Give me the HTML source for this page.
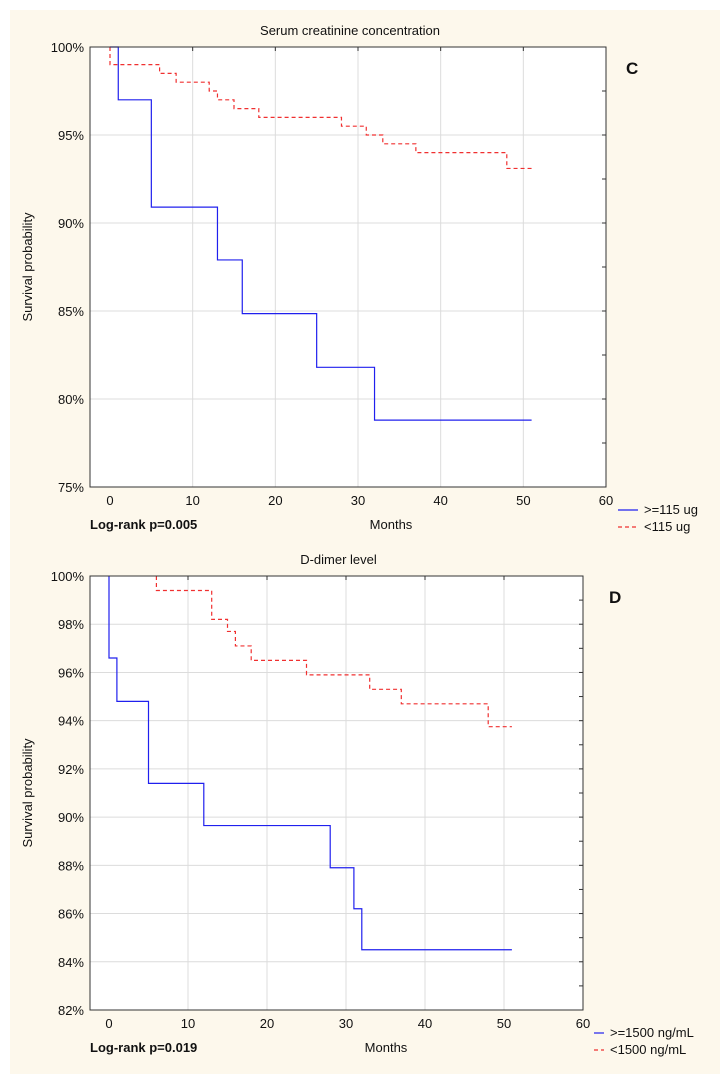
<!DOCTYPE html>
<html><head><meta charset="utf-8"><style>
body{margin:0;background:#fff;}
svg{display:block;font-family:"Liberation Sans",sans-serif;}
</style></head><body>
<svg id="s" width="725" height="1078" xmlns="http://www.w3.org/2000/svg">
<rect x="10" y="10" width="710" height="1064" fill="#fdf8ec"/>
</svg>
<script>
const topBlueT=[0,1,5,13,16,25,32,51];
const topBlueS=[100,97,90.9,87.9,84.85,81.8,78.8,78.8];
const topRedT=[0,0,6,8,12,13,15,18,28,31,33,37,48,51];
const topRedS=[100,99,98.5,98,97.5,97,96.5,96,95.5,95,94.5,94,93.1,93.1];
const topYTicks=[75,80,85,90,95,100];
const botBlueT=[0,0,1,5,12,28,31,32,51];
const botBlueS=[100,96.6,94.8,91.4,89.65,87.9,86.2,84.5,84.5];
const botRedT=[6,6,13,15,16,18,25,33,37,48,51];
const botRedS=[100,99.4,98.2,97.7,97.1,96.5,95.9,95.3,94.7,93.75,93.75];
const botYTicks=[82,84,86,88,90,92,94,96,98,100];
const xTicks=[0,10,20,30,40,50,60];

const svg=document.getElementById('s');
const NS='http://www.w3.org/2000/svg';
function mk(tag,attrs,parent){const e=document.createElementNS(NS,tag);for(const k in attrs)e.setAttribute(k,attrs[k]);(parent||svg).appendChild(e);return e;}
function txt(x,y,s,size,attrs,parent){const e=mk('text',Object.assign({x:x,y:y,'font-size':size,fill:'#111'},attrs||{}),parent);e.textContent=s;return e;}

function panel(cfg){
  const g=mk('g',{});
  
  
  const L=cfg.L,R=cfg.R,T=cfg.T,B=cfg.B;
  const xs=v=>cfg.x0+(v-0)*(cfg.x60-cfg.x0)/60;
  const ys=v=>B-(v-cfg.yMin)*(B-T)/(cfg.yMax-cfg.yMin);
  const bg=mk('rect',{x:L,y:T,width:R-L,height:B-T,fill:'#fff'},g);
  
  xTicks.forEach(t=>{
    if(t>0&&t<60){const l=mk('line',{x1:xs(t),x2:xs(t),y1:T,y2:B,stroke:'#dcdcdc','stroke-width':1},g);
    }
    const lab=txt(xs(t),B+18,String(t),13,{'text-anchor':'middle'},g);
    
    mk('line',{x1:xs(t),x2:xs(t),y1:T,y2:T+4,stroke:'#333'},g);
  });
  cfg.yTicks.forEach(t=>{
    if(t>cfg.yMin&&t<cfg.yMax){const l=mk('line',{x1:L,x2:R,y1:ys(t),y2:ys(t),stroke:'#dcdcdc','stroke-width':1},g);
    }
    const lab=txt(L-6,ys(t)+5,t+'%',13,{'text-anchor':'end'},g);
    
    mk('line',{x1:R-4,x2:R,y1:ys(t),y2:ys(t),stroke:'#333'},g);
  });
  for(let i=0;i<cfg.yTicks.length-1;i++){const m=(cfg.yTicks[i]+cfg.yTicks[i+1])/2;mk('line',{x1:R-4,x2:R,y1:ys(m),y2:ys(m),stroke:'#333'},g);}
  function step(T_,S_,color,dash,name){
    let d='M'+xs(T_[0])+' '+ys(S_[0]);
    for(let i=1;i<T_.length;i++){d+=' L'+xs(T_[i])+' '+ys(S_[i-1])+' L'+xs(T_[i])+' '+ys(S_[i]);}
    const p=mk('path',{d:d,fill:'none',stroke:color,'stroke-width':1.2},g);
    if(dash)p.setAttribute('stroke-dasharray',dash);
    
  }
  step(cfg.redT,cfg.redS,'#f03030','4,3',cfg.redName);
  step(cfg.blueT,cfg.blueS,'#2020ee',null,cfg.blueName);
  const fr=mk('rect',{x:L,y:T,width:R-L,height:B-T,fill:'none',stroke:'#333','stroke-width':1},g);
  
  const ti=txt((L+R)/2+2,T-12,cfg.title,13,{'text-anchor':'middle'},g);
  
  const yl=txt(0,0,'Survival probability',13,{'text-anchor':'middle',transform:'translate(32,'+((T+B)/2)+') rotate(-90)'},g);
  
  const xl=txt(cfg.monthsX,B+42,'Months',13,{'text-anchor':'middle'},g);
  
  const lr=txt(L,B+42,cfg.logrank,13,{'font-weight':'bold'},g);
  
  const pl=txt(cfg.letterX,T+27,cfg.letter,17,{'font-weight':'bold'},g);
  
  const e1=mk('g',{},g);
  mk('line',{x1:cfg.legX,x2:cfg.legX+cfg.legW,y1:B+23,y2:B+23,stroke:'#2020ee','stroke-width':1.2},e1);
  txt(cfg.legX+cfg.legW+6,B+27,cfg.legHigh,13,{},e1);
  const e2=mk('g',{},g);
  mk('line',{x1:cfg.legX,x2:cfg.legX+cfg.legW,y1:B+40,y2:B+40,stroke:'#f03030','stroke-width':1.2,'stroke-dasharray':'4,3'},e2);
  txt(cfg.legX+cfg.legW+6,B+44,cfg.legLow,13,{},e2);
}
panel({name:'chart-serum-creatinine',L:90,R:606,T:47,B:487,x0:110,x60:606,yMin:75,yMax:100,yTicks:topYTicks,
  blueT:topBlueT,blueS:topBlueS,redT:topRedT,redS:topRedS,blueName:'line-high-creatinine',redName:'line-low-creatinine',
  title:'Serum creatinine concentration',monthsX:391,logrank:'Log-rank p=0.005',letter:'C',letterX:626,
  legX:618,legW:20,legHigh:'>=115 ug',legLow:'<115 ug'});
panel({name:'chart-d-dimer',L:90,R:583,T:576,B:1010,x0:109,x60:583,yMin:82,yMax:100,yTicks:botYTicks,
  blueT:botBlueT,blueS:botBlueS,redT:botRedT,redS:botRedS,blueName:'line-high-d-dimer',redName:'line-low-d-dimer',
  title:'D-dimer level',monthsX:386,logrank:'Log-rank p=0.019',letter:'D',letterX:609,
  legX:594,legW:10,legHigh:'>=1500 ng/mL',legLow:'<1500 ng/mL'});
</script>
</body></html>
